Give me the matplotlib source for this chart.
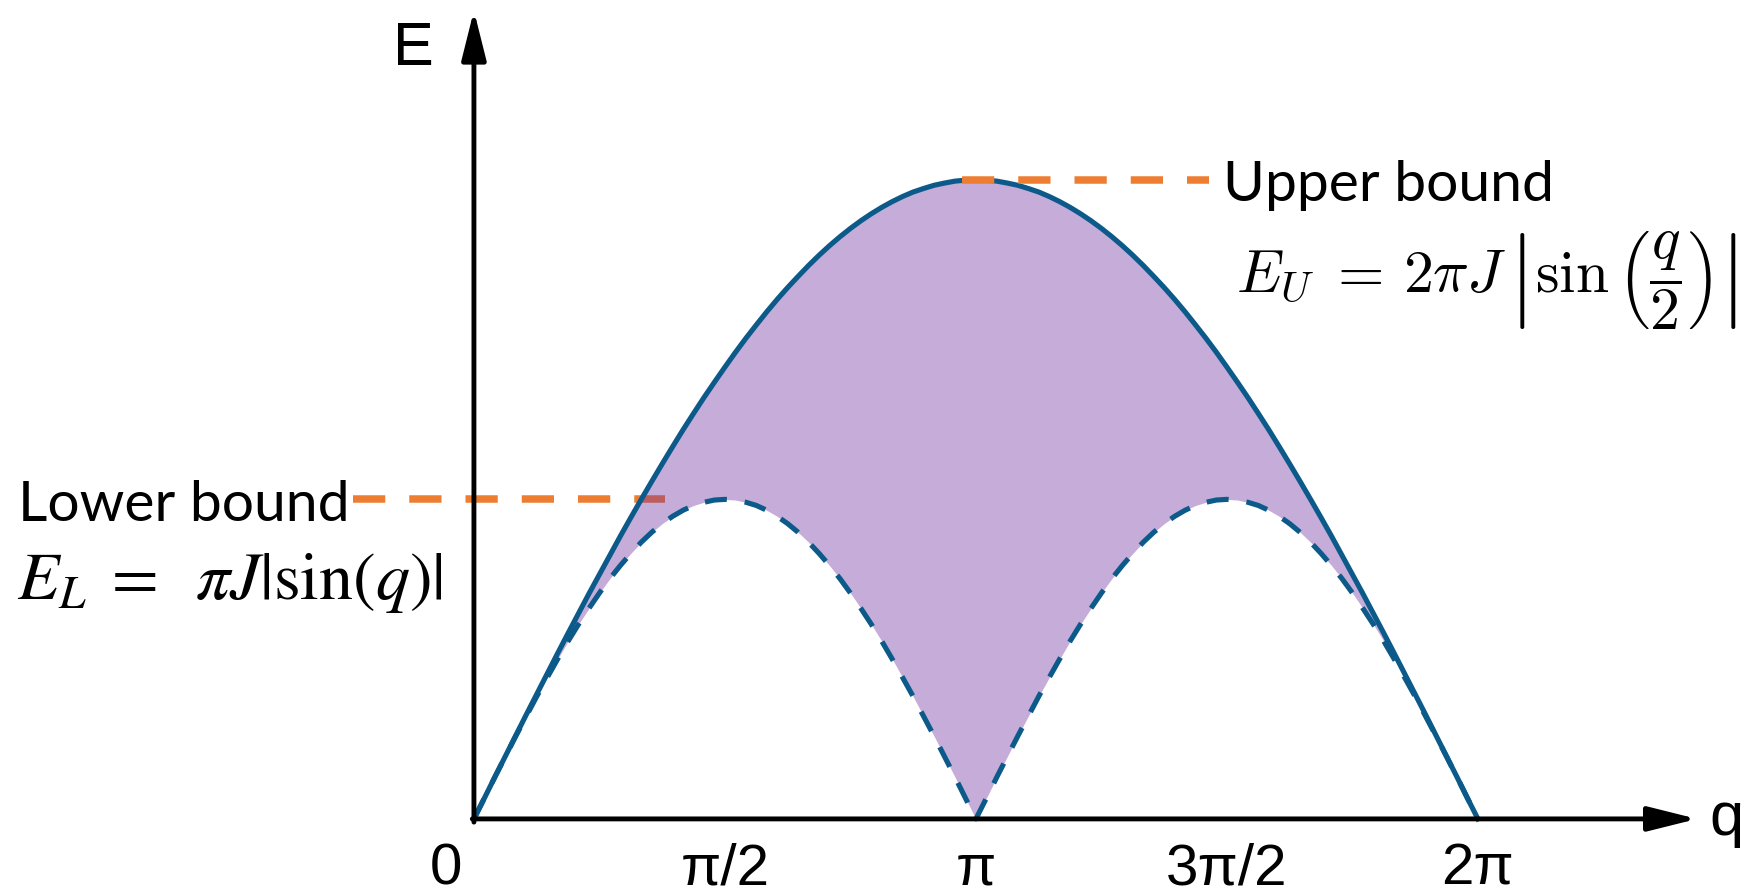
import numpy as np
import matplotlib
matplotlib.use("Agg")
import matplotlib.pyplot as plt

# energies in units of pi*J, read every pi/48 over 0..2pi
q_vals = np.linspace(0, 2 * np.pi, 97)
upper_E = [0.000, 0.065, 0.131, 0.196, 0.261, 0.326, 0.390, 0.454, 0.518, 0.581,
           0.643, 0.705, 0.765, 0.825, 0.885, 0.943, 1.000, 1.056, 1.111, 1.165,
           1.218, 1.269, 1.319, 1.367, 1.414, 1.460, 1.504, 1.546, 1.587, 1.626,
           1.663, 1.698, 1.732, 1.764, 1.794, 1.822, 1.848, 1.872, 1.894, 1.914,
           1.932, 1.948, 1.962, 1.973, 1.983, 1.990, 1.996, 1.999, 2.000,
           1.999, 1.996, 1.990, 1.983, 1.973, 1.962, 1.948, 1.932, 1.914, 1.894,
           1.872, 1.848, 1.822, 1.794, 1.764, 1.732, 1.698, 1.663, 1.626, 1.587,
           1.546, 1.504, 1.460, 1.414, 1.367, 1.319, 1.269, 1.218, 1.165, 1.111,
           1.056, 1.000, 0.943, 0.885, 0.825, 0.765, 0.705, 0.643, 0.581, 0.518,
           0.454, 0.390, 0.326, 0.261, 0.196, 0.131, 0.065, 0.000]
lower_E = [0.000, 0.065, 0.131, 0.195, 0.259, 0.321, 0.383, 0.442, 0.500, 0.556,
           0.609, 0.659, 0.707, 0.752, 0.793, 0.831, 0.866, 0.897, 0.924, 0.947,
           0.966, 0.981, 0.991, 0.998, 1.000, 0.998, 0.991, 0.981, 0.966, 0.947,
           0.924, 0.897, 0.866, 0.831, 0.793, 0.752, 0.707, 0.659, 0.609, 0.556,
           0.500, 0.442, 0.383, 0.321, 0.259, 0.195, 0.131, 0.065, 0.000,
           0.065, 0.131, 0.195, 0.259, 0.321, 0.383, 0.442, 0.500, 0.556,
           0.609, 0.659, 0.707, 0.752, 0.793, 0.831, 0.866, 0.897, 0.924, 0.947,
           0.966, 0.981, 0.991, 0.998, 1.000, 0.998, 0.991, 0.981, 0.966, 0.947,
           0.924, 0.897, 0.866, 0.831, 0.793, 0.752, 0.707, 0.659, 0.609, 0.556,
           0.500, 0.442, 0.383, 0.321, 0.259, 0.195, 0.131, 0.065, 0.000]

tick_pos = [0, np.pi / 2, np.pi, 3 * np.pi / 2, 2 * np.pi]
tick_labels = ["0", "π/2", "π", "3π/2", "2π"]

upper_label = "Upper bound"
lower_label = "Lower bound"
upper_formula = r"$E_U\;=\,2\pi J\,\left|\sin\left(\dfrac{q}{2}\right)\right|$"
lower_formula = r"$E_L\;=\;\;\pi J|\sin(q)|$"

blue = "#0B5A8A"
orange = "#ED7D31"
purple = "#7030A0"

plt.rcParams["mathtext.fontset"] = "stix"
label_font = ["Liberation Sans Narrow", "Liberation Sans", "DejaVu Sans"]
note_font = ["Lato", "DejaVu Sans"]

fig = plt.figure(figsize=(17.5, 8.95), dpi=100)
ax = fig.add_axes([0, 0, 1, 1])
ax.set_xlim(-2.966, 7.986)
ax.set_ylim(-0.235, 2.566)
ax.axis("off")

E_up = np.array(upper_E)
E_lo = np.array(lower_E)

# orange guide for the lower bound sits under the fill
ax.plot([-0.757, 1.195], [E_lo.max(), E_lo.max()], color=orange, lw=5.4,
        dashes=(4.3, 3.2), zorder=1)
ax.fill_between(q_vals, E_lo, E_up, color=purple, alpha=0.4, lw=0, zorder=2)
ax.plot(q_vals, E_up, color=blue, lw=3.7, zorder=3, solid_joinstyle="round")
ax.plot(q_vals, E_lo, color=blue, lw=3.7, dashes=(4.3, 3.5), zorder=3)
ax.plot([3.054, 4.600], [E_up.max(), E_up.max()], color=orange, lw=5.4,
        dashes=(4.3, 3.2), zorder=4)

# axes with arrow heads
arrow = dict(arrowstyle="-|>,head_length=3.0,head_width=0.75", mutation_scale=10,
             lw=3.5, color="black", shrinkA=0, shrinkB=0)
ax.annotate("", xy=(7.655, 0), xytext=(-0.01, 0), arrowprops=arrow, zorder=5)
ax.annotate("", xy=(0, 2.53), xytext=(0, -0.01), arrowprops=arrow, zorder=5)

ax.text(-0.38, 2.41, "E", fontsize=44, family=label_font, ha="center", va="center")
ax.text(7.84, 0.0, "q", fontsize=44, family=label_font, ha="center", va="center")

for i, (p, t) in enumerate(zip(tick_pos, tick_labels)):
    x = p if i > 0 else -0.175
    ax.text(x, -0.155, t, fontsize=42, family=label_font, ha="center", va="center")

ax.text(4.69, 1.985, upper_label, fontsize=41, family=note_font, ha="left", va="center")
ax.text(-2.856, 0.985, lower_label, fontsize=41, family=note_font, ha="left", va="center")
ax.text(4.77, 1.69, upper_formula, fontsize=43, math_fontfamily="cm",
        ha="left", va="center")
ax.text(-2.86, 0.745, lower_formula, fontsize=49, ha="left", va="center")

fig.savefig("out.png", dpi=100)
